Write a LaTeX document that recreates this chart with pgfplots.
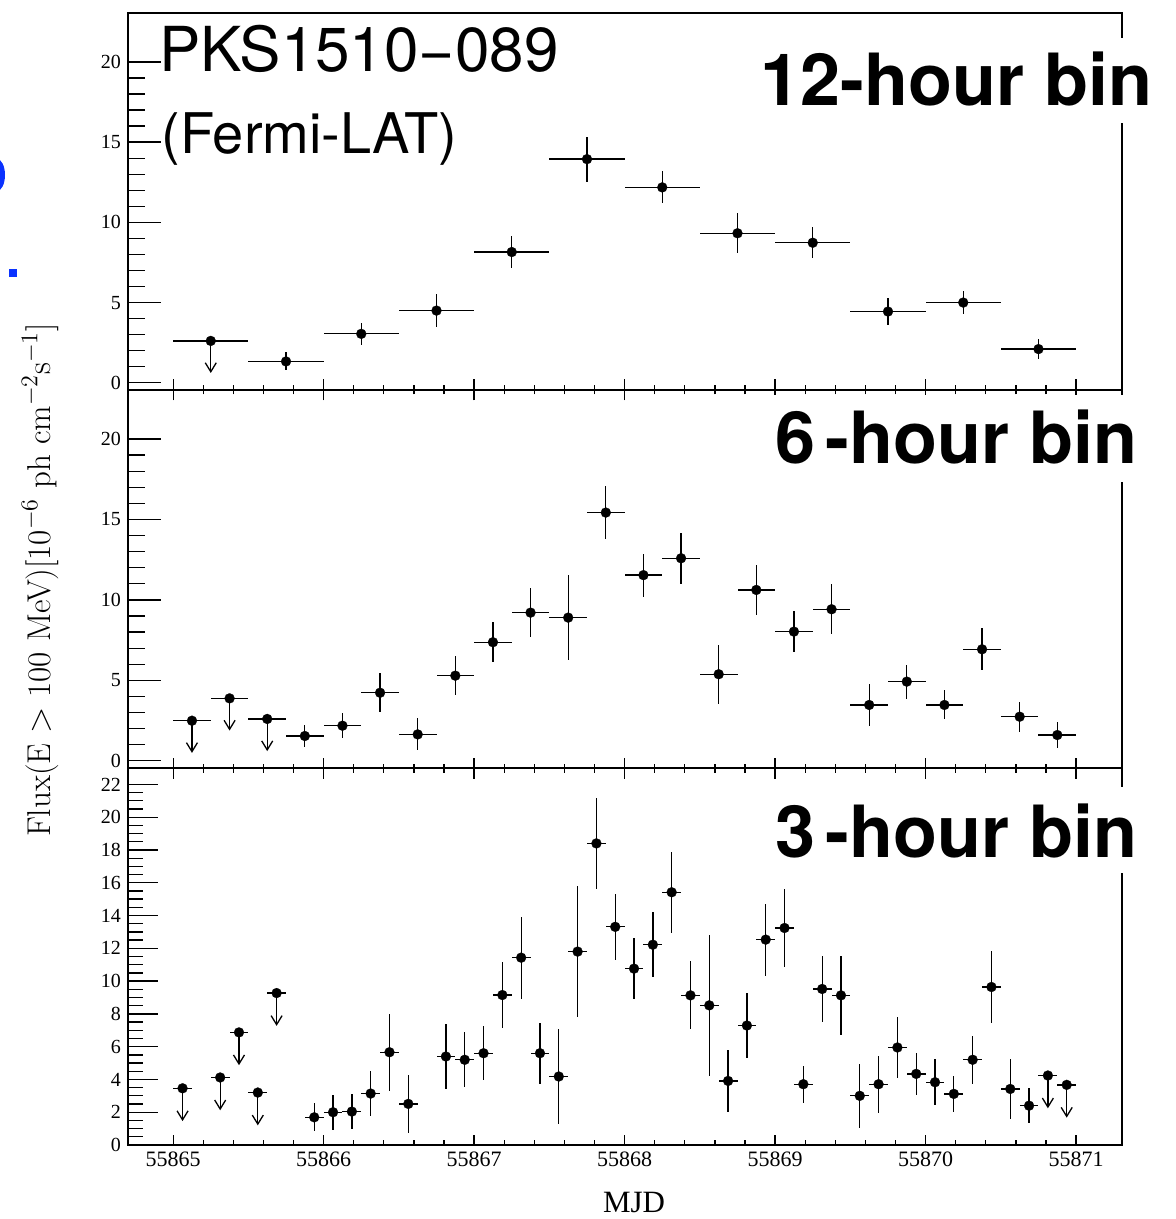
\documentclass[border=0pt]{standalone}
\usepackage{fontspec}
\usepackage{pgfplots}
\pgfplotsset{compat=1.18}
\usepackage{pgfplotstable}
\usetikzlibrary{arrows.meta}
\newfontfamily\timesfont{Liberation Serif}
\newfontfamily\helv{TeX Gyre Heros}
\definecolor{bluey}{RGB}{10,50,255}

% time t = MJD - 55865
\pgfplotstableread{
t f dx df
0.75 1.33 0.25 0.56
1.25 3.05 0.25 0.70
1.75 4.50 0.25 1.04
2.25 8.15 0.25 1.01
2.75 13.94 0.25 1.40
3.25 12.18 0.25 1.00
3.75 9.32 0.25 1.25
4.25 8.73 0.25 0.97
4.75 4.44 0.25 0.83
5.25 5.00 0.25 0.73
5.75 2.10 0.25 0.60
}\twelveDet
\pgfplotstableread{
t f dx
0.25 2.61 0.25
}\twelveUL

\pgfplotstableread{
t f dx df
0.875 1.54 0.125 0.70
1.125 2.18 0.125 0.78
1.375 4.23 0.125 1.20
1.625 1.64 0.125 1.00
1.875 5.29 0.125 1.23
2.125 7.37 0.125 1.25
2.375 9.21 0.125 1.50
2.625 8.90 0.125 2.65
2.875 15.43 0.125 1.63
3.125 11.54 0.125 1.33
3.375 12.59 0.125 1.57
3.625 5.38 0.125 1.82
3.875 10.62 0.125 1.55
4.125 8.03 0.125 1.25
4.375 9.42 0.125 1.55
4.625 3.47 0.125 1.30
4.875 4.92 0.125 1.06
5.125 3.47 0.125 0.90
5.375 6.93 0.125 1.30
5.625 2.74 0.125 0.93
5.875 1.60 0.125 0.80
}\sixDet
\pgfplotstableread{
t f dx
0.125 2.49 0.125
0.375 3.88 0.125
0.625 2.60 0.125
}\sixUL

\pgfplotstableread{
t f dx df
0.9375 1.69 0.0625 0.85
1.0625 2.00 0.0625 1.07
1.1875 2.04 0.0625 1.07
1.3125 3.14 0.0625 1.35
1.4375 5.66 0.0625 2.34
1.5625 2.51 0.0625 1.78
1.8125 5.40 0.0625 1.97
1.9375 5.20 0.0625 1.68
2.0625 5.60 0.0625 1.65
2.1875 9.15 0.0625 2.00
2.3125 11.43 0.0625 2.50
2.4375 5.60 0.0625 1.87
2.5625 4.18 0.0625 2.90
2.6875 11.80 0.0625 4.02
2.8125 18.40 0.0625 2.78
2.9375 13.31 0.0625 2.02
3.0625 10.76 0.0625 1.85
3.1875 12.22 0.0625 2.00
3.3125 15.42 0.0625 2.47
3.4375 9.13 0.0625 2.07
3.5625 8.52 0.0625 4.28
3.6875 3.91 0.0625 1.90
3.8125 7.29 0.0625 2.00
3.9375 12.53 0.0625 2.20
4.0625 13.24 0.0625 2.36
4.1875 3.71 0.0625 1.12
4.3125 9.52 0.0625 2.00
4.4375 9.13 0.0625 2.40
4.5625 3.00 0.0625 1.94
4.6875 3.71 0.0625 1.73
4.8125 5.95 0.0625 1.87
4.9375 4.34 0.0625 1.27
5.0625 3.83 0.0625 1.40
5.1875 3.12 0.0625 1.09
5.3125 5.20 0.0625 1.45
5.4375 9.64 0.0625 2.22
5.5625 3.42 0.0625 1.85
5.6875 2.40 0.0625 1.07
}\threeDet
\pgfplotstableread{
t f dx
0.0625 3.46 0.0625
0.3125 4.12 0.0625
0.4375 6.87 0.0625
0.5625 3.20 0.0625
0.6875 9.27 0.0625
5.8125 4.24 0.0625
5.9375 3.67 0.0625
}\threeUL

\pgfplotsset{
  lc/.style={
    scale only axis, width=497pt,
    xmin=-0.3, xmax=6.305,
    xtick={0,1,2,3,4,5,6}, minor x tick num=4,
    tick pos=left,
    axis line style={line width=0.7pt},
    tick style={black, line width=0.65pt},
    /pgf/number format/assume math mode=true,
    yticklabel style={font=\timesfont\fontsize{10pt}{12pt}\selectfont},
    xticklabel style={font=\timesfont\fontsize{11pt}{13pt}\selectfont},
  },
  det/.style={black, only marks, mark=*, mark size=2.5pt,
    mark options={fill=black, draw=black, line width=0.1pt},
    error bars/.cd, x dir=both, x explicit, y dir=both, y explicit,
    error mark=none, error bar style={line width=0.65pt, black}},
  ul/.style={black, only marks, mark=*, mark size=2.5pt,
    mark options={fill=black, draw=black, line width=0.1pt},
    error bars/.cd, x dir=both, x explicit,
    error mark=none, error bar style={line width=0.65pt, black}},
  arr/.style={black, line width=0.65pt, -{Straight Barb[length=4.5pt,width=5.5pt]},
    quiver={u=0, v=-2}},
}

\begin{document}
\begin{tikzpicture}
\useasboundingbox (0,0) rectangle (588pt,-609.5pt);

% top: 12-hour
\begin{axis}[lc, at={(64pt,-6.5pt)}, anchor=north west, height=188.5pt,
  ymin=-0.45, ymax=23.05, ytick={0,5,10,15,20}, minor y tick num=4,
  xticklabels={}, xtick align=center,
  xtick style={/pgfplots/major tick length=10.5pt, /pgfplots/minor tick length=4.5pt},
  ytick style={/pgfplots/major tick length=16.5pt, /pgfplots/minor tick length=8.5pt}]
\addplot[arr] table[x=t, y=f] {\twelveUL};
\addplot[ul] table[x=t, y=f, x error=dx] {\twelveUL};
\addplot[det] table[x=t, y=f, x error=dx, y error=df] {\twelveDet};
\end{axis}

% middle: 6-hour
\begin{axis}[lc, at={(64pt,-195pt)}, anchor=north west, height=189pt,
  ymin=-0.45, ymax=23.05, ytick={0,5,10,15,20}, minor y tick num=4,
  xticklabels={}, xtick align=center,
  xtick style={/pgfplots/major tick length=10.5pt, /pgfplots/minor tick length=4.5pt},
  ytick style={/pgfplots/major tick length=16.5pt, /pgfplots/minor tick length=8.5pt}]
\addplot[arr] table[x=t, y=f] {\sixUL};
\addplot[ul] table[x=t, y=f, x error=dx] {\sixUL};
\addplot[det] table[x=t, y=f, x error=dx, y error=df] {\sixDet};
\end{axis}

% bottom: 3-hour
\begin{axis}[lc, at={(64pt,-384pt)}, anchor=north west, height=188.5pt,
  ymin=0, ymax=23, ytick={0,2,...,22}, minor y tick num=3,
  xticklabels={55865,55866,55867,55868,55869,55870,55871},
  xtick align=inside,
  xtick style={/pgfplots/major tick length=5pt, /pgfplots/minor tick length=2.5pt},
  ytick style={/pgfplots/major tick length=15pt, /pgfplots/minor tick length=7.5pt}]
\addplot[arr] table[x=t, y=f] {\threeUL};
\addplot[ul] table[x=t, y=f, x error=dx] {\threeUL};
\addplot[det] table[x=t, y=f, x error=dx, y error=df] {\threeDet};
\end{axis}

% labels
\fill[white] (375pt,-19pt) rectangle (580pt,-61.5pt);
\node[anchor=base west, inner sep=0pt, font=\helv\bfseries\fontsize{36pt}{40pt}\selectfont] at (380pt,-53pt) {12-hour bin};
\fill[white] (382pt,-197.5pt) rectangle (572pt,-241pt);
\node[anchor=base west, inner sep=0pt, font=\helv\bfseries\fontsize{36pt}{40pt}\selectfont] at (387.5pt,-231.5pt) {6\kern5pt-hour bin};
\fill[white] (382pt,-393.5pt) rectangle (572pt,-436.5pt);
\node[anchor=base west, inner sep=0pt, font=\helv\bfseries\fontsize{36pt}{40pt}\selectfont] at (387.5pt,-428.5pt) {3\kern5pt-hour bin};

\node[anchor=base west, inner sep=0pt, font=\helv\fontsize{31pt}{34pt}\selectfont] at (79.5pt,-36pt) {PKS1510−089};
\node[anchor=base west, inner sep=0pt, font=\helv\fontsize{28pt}{32pt}\selectfont] at (80.5pt,-77pt) {(Fermi-LAT)};

\node[anchor=base, inner sep=0pt, font=\timesfont\fontsize{15.5pt}{18pt}\selectfont] at (317pt,-606pt) {MJD};
\node[rotate=90, anchor=base, inner sep=0pt, font=\fontsize{16.5pt}{20pt}\selectfont] at (25pt,-290pt) {Flux(E $>$ 100 MeV)[10$^{-6}$ ph cm$^{-2}$s$^{-1}$]};

% cropped neighbour artefacts at the left edge
\fill[bluey] (-1.5pt,-87.5pt) ellipse (4pt and 8pt);
\fill[bluey] (4.5pt,-134.5pt) rectangle (8.5pt,-138.5pt);
\end{tikzpicture}
\end{document}
